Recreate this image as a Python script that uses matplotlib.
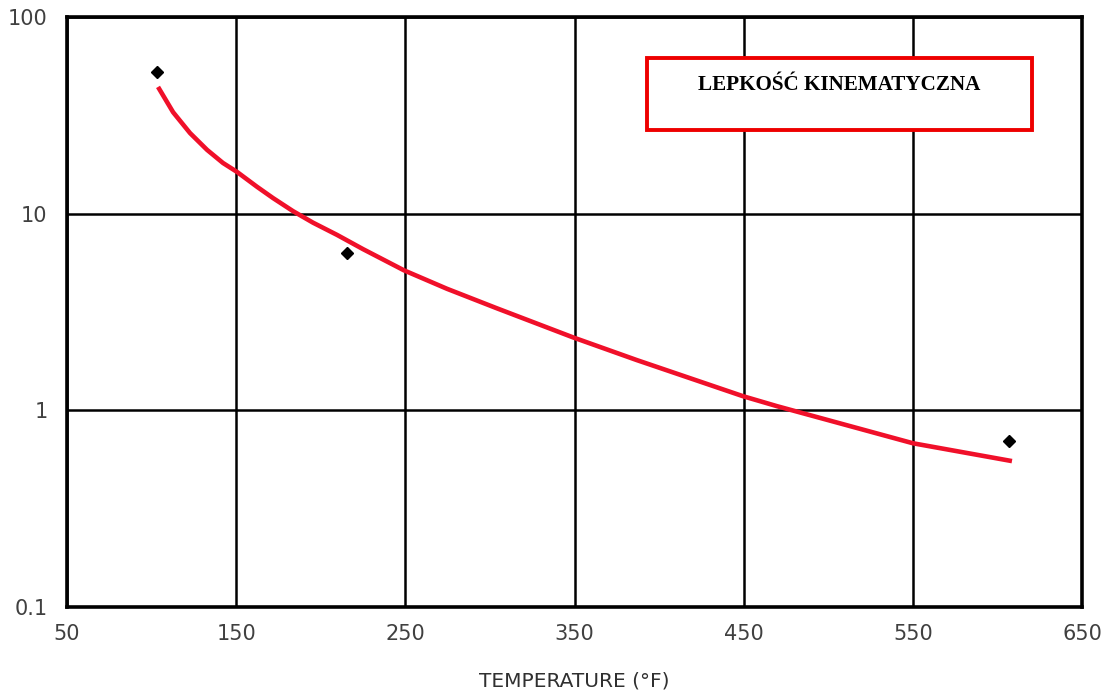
import matplotlib
matplotlib.use("Agg")
from matplotlib import pyplot as plt
from matplotlib.patches import Rectangle
from matplotlib.ticker import FixedLocator, FixedFormatter

# measured points
temp_pts = [103, 215.5, 607]
visc_pts = [52.5, 6.3, 0.70]

# fitted trend line
temp_fit = [103.8, 112.7, 122.7, 132.8, 142.2, 150.5, 162.3, 171.8, 183.6, 195.4,
            209.6, 225.0, 249.2, 274.6, 304.2, 349.1, 386.9, 449.6, 469.7, 524.7,
            550.1, 608.6]
visc_fit = [44.1, 32.8, 25.7, 21.1, 18.1, 16.3, 13.7, 12.0, 10.3, 9.0,
            7.8, 6.6, 5.15, 4.15, 3.30, 2.35, 1.8, 1.18, 1.05, 0.78,
            0.68, 0.552]

x_ticks = [50, 150, 250, 350, 450, 550, 650]
y_ticks = [0.1, 1, 10, 100]
y_labels = ["0.1", "1", "10", "100"]

title = "LEPKOŚĆ KINEMATYCZNA"
xlabel = "TEMPERATURE (°F)"

fig = plt.figure(figsize=(11.06, 6.99), dpi=100)
ax = fig.add_axes([0.0606, 0.1316, 0.9177, 0.8441])

ax.plot(temp_fit, visc_fit, color="#f0102a", lw=3.3, solid_capstyle="butt",
        solid_joinstyle="round", zorder=3)
ax.plot(temp_pts, visc_pts, "D", color="black", ms=6.5, zorder=4)

ax.set_yscale("log")
ax.set_xlim(50, 650)
ax.set_ylim(0.1, 100)
ax.xaxis.set_major_locator(FixedLocator(x_ticks))
ax.yaxis.set_major_locator(FixedLocator(y_ticks))
ax.yaxis.set_major_formatter(FixedFormatter(y_labels))
ax.yaxis.set_minor_locator(FixedLocator([]))
ax.tick_params(length=0, labelsize=15, labelcolor="#404040")
ax.tick_params(axis="x", pad=12)
ax.tick_params(axis="y", pad=14)
ax.grid(True, color="black", lw=1.8)
for s in ax.spines.values():
    s.set_linewidth(2.6)
    s.set_color("black")

ax.set_xlabel(xlabel, fontsize=14.5, color="#303030", labelpad=20)

ax.add_patch(Rectangle((0.571, 0.8085), 0.38, 0.122, transform=ax.transAxes,
                       facecolor="white", edgecolor="#ee0000", lw=2.8, zorder=5))
ax.text(0.761, 0.885, title, transform=ax.transAxes, ha="center", va="center",
        fontsize=15.2, fontweight="bold", family="Liberation Serif", zorder=6)

fig.savefig("out.png", dpi=100)
